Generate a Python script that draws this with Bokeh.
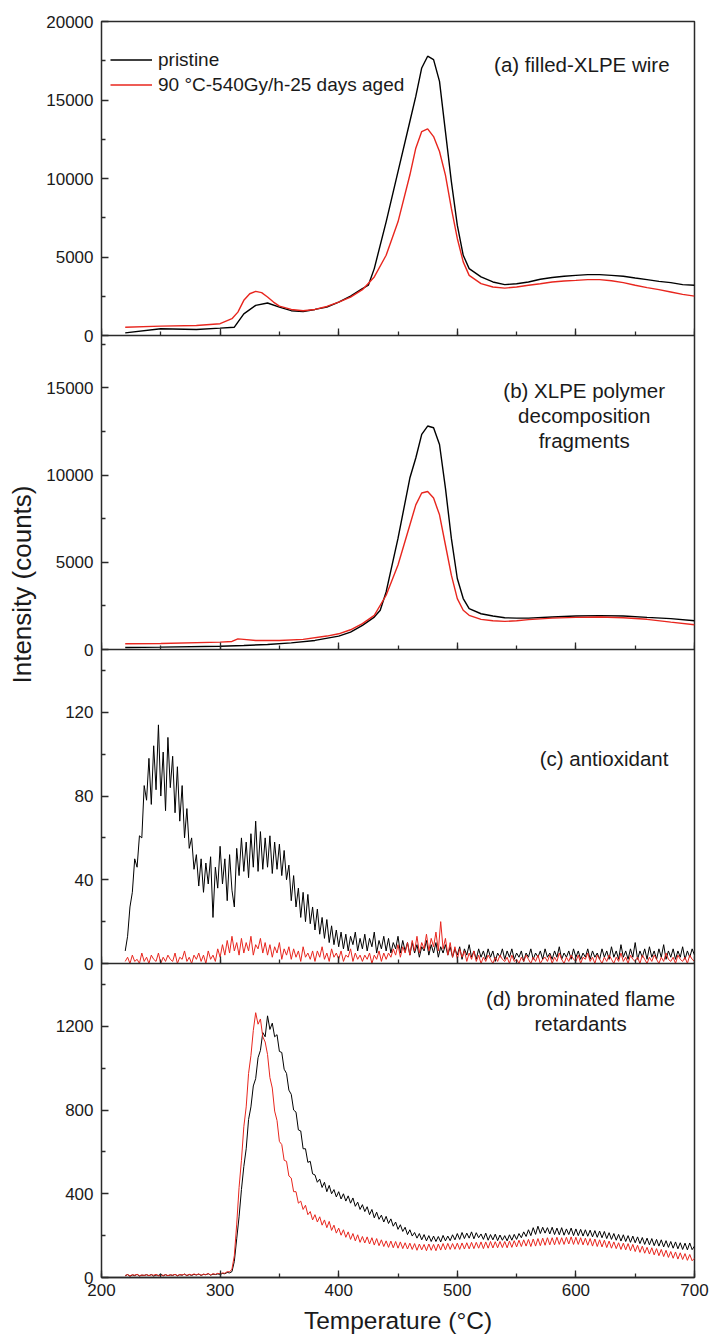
import math
from bokeh.plotting import figure
from bokeh.models import (Range1d, LinearAxis, SingleIntervalTicker, FixedTicker, Label,
                          Legend, LegendItem, Title)
from bokeh.embed import file_html
from bokeh.resources import INLINE

# ---------------- data ----------------
# (a) filled-XLPE wire
T_a_pristine = [220, 250, 280, 300, 312, 320, 330, 340, 350, 360, 370, 380, 390, 400, 410,
                420, 425, 430, 440, 450, 460, 465, 470, 475, 480, 485, 490, 495, 500, 505,
                510, 520, 530, 540, 550, 560, 570, 580, 590, 600, 610, 620, 630, 640, 650,
                660, 670, 680, 690, 700]
a_pristine = [170, 430, 380, 470, 530, 1380, 1920, 2070, 1810, 1580, 1530, 1660, 1810, 2130, 2510,
              2980, 3200, 4260, 7240, 10440, 13630, 15230, 17040, 17790, 17570, 16190, 12990, 9800, 7030, 5110,
              4260, 3730, 3410, 3240, 3300, 3410, 3580, 3690, 3770, 3830, 3880, 3880, 3830, 3770, 3660,
              3560, 3450, 3370, 3240, 3200]
T_a_aged = [220, 250, 280, 300, 310, 315, 320, 325, 330, 335, 340, 345, 350, 360, 370,
            380, 390, 400, 410, 420, 430, 440, 450, 460, 465, 470, 475, 480, 485, 490,
            495, 500, 505, 510, 520, 530, 540, 550, 560, 570, 580, 590, 600, 610, 620,
            630, 640, 650, 660, 670, 680, 690, 700]
a_aged = [530, 600, 640, 750, 1070, 1490, 2240, 2660, 2810, 2730, 2450, 2130, 1870, 1660, 1580,
          1660, 1850, 2130, 2450, 2920, 3730, 5110, 7240, 10220, 11930, 12990, 13160, 12670, 11720, 10220,
          8090, 6180, 4690, 3830, 3300, 3090, 3020, 3090, 3200, 3300, 3410, 3470, 3510, 3560, 3560,
          3490, 3370, 3200, 3050, 2920, 2770, 2620, 2510]

# (b) XLPE polymer decomposition fragments
T_b_pristine = [220, 250, 300, 320, 340, 360, 380, 400, 410, 420, 430, 435, 440, 450, 460,
                465, 470, 475, 480, 485, 490, 495, 500, 505, 510, 520, 530, 540, 550, 560,
                580, 600, 620, 640, 660, 680, 700]
b_pristine = [115, 135, 190, 230, 290, 380, 520, 770, 1000, 1380, 1860, 2250, 3300, 6370, 9830,
              10980, 12330, 12810, 12710, 11750, 9250, 6370, 4070, 2920, 2340, 2050, 1920, 1820, 1800, 1800,
              1860, 1920, 1940, 1920, 1840, 1770, 1650]
T_b_aged = [220, 250, 300, 310, 315, 320, 330, 350, 370, 390, 400, 410, 420, 430, 440,
            450, 460, 465, 470, 475, 480, 485, 490, 495, 500, 505, 510, 520, 530, 540,
            550, 560, 580, 600, 620, 640, 660, 680, 700]
b_aged = [330, 345, 420, 460, 610, 580, 520, 520, 580, 770, 900, 1130, 1480, 1960, 3110,
          4840, 7140, 8290, 8970, 9060, 8680, 7720, 5990, 4260, 2920, 2250, 1960, 1730, 1650, 1610,
          1650, 1710, 1800, 1840, 1860, 1820, 1730, 1570, 1420]

# (c) and (d): noisy traces sampled every 2 degC from 220 to 700
T_noisy = list(range(220, 701, 2))
c_pristine = [
    6, 13, 27, 34, 50, 46, 61, 60, 85, 78,
    98, 76, 104, 83, 114, 80, 101, 73, 108, 84,
    99, 72, 94, 68, 85, 60, 74, 55, 60, 45,
    52, 37, 50, 34, 48, 38, 51, 22, 46, 36,
    56, 38, 50, 30, 52, 35, 27, 55, 42, 60,
    44, 58, 41, 62, 46, 68, 44, 63, 45, 60,
    46, 61, 43, 58, 45, 57, 42, 54, 40, 47,
    30, 42, 27, 36, 22, 34, 20, 33, 19, 27,
    16, 26, 14, 22, 12, 21, 10, 18, 9, 16,
    8, 15, 7, 14, 6, 13, 9, 15, 6, 12,
    7, 14, 6, 12, 8, 15, 5, 11, 7, 13,
    6, 12, 5, 10, 7, 13, 5, 11, 6, 10,
    4, 10, 5, 9, 3, 8, 6, 11, 4, 9,
    5, 10, 3, 8, 5, 9, 4, 8, 3, 7,
    4, 8, 2, 7, 4, 9, 3, 6, 2, 7,
    3, 6, 2, 7, 3, 6, 1, 5, 3, 7,
    2, 6, 3, 7, 2, 5, 3, 6, 1, 5,
    3, 7, 2, 5, 3, 6, 2, 7, 3, 5,
    2, 6, 3, 8, 2, 5, 3, 6, 2, 7,
    3, 6, 2, 5, 3, 7, 2, 6, 3, 5,
    2, 7, 3, 6, 2, 8, 3, 6, 2, 9,
    3, 6, 2, 7, 3, 10, 2, 6, 3, 7,
    2, 8, 3, 6, 2, 7, 3, 9, 2, 6,
    3, 7, 2, 6, 3, 8, 2, 6, 3, 7,
    4]
c_aged = [
    1, 3, 0, 4, 1, 2, 0, 5, 1, 3,
    0, 4, 2, 1, 5, 0, 3, 1, 4, 2,
    1, 5, 0, 3, 2, 6, 1, 3, 0, 4,
    2, 5, 1, 4, 0, 6, 2, 4, 1, 7,
    3, 9, 4, 11, 5, 13, 6, 10, 4, 12,
    5, 10, 6, 13, 4, 9, 7, 12, 5, 10,
    4, 9, 3, 8, 5, 10, 2, 7, 4, 8,
    2, 7, 3, 6, 1, 8, 3, 5, 2, 6,
    1, 6, 3, 8, 2, 5, 1, 7, 3, 5,
    2, 6, 1, 4, 3, 7, 1, 5, 2, 4,
    1, 4, 2, 5, 0, 4, 2, 6, 1, 5,
    2, 5, 3, 7, 4, 9, 3, 8, 5, 10,
    4, 11, 6, 13, 5, 10, 7, 14, 6, 12,
    8, 15, 6, 20, 7, 12, 4, 10, 3, 8,
    2, 7, 3, 6, 1, 5, 2, 6, 1, 4,
    0, 3, 1, 4, 2, 0, 3, 1, 4, 2,
    1, 3, 0, 4, 1, 2, 0, 3, 1, 4,
    2, 0, 3, 1, 4, 0, 2, 3, 1, 4,
    0, 3, 1, 5, 2, 0, 3, 1, 4, 2,
    1, 4, 0, 3, 2, 5, 1, 3, 0, 4,
    2, 0, 3, 1, 4, 2, 0, 3, 1, 5,
    1, 3, 0, 4, 2, 1, 3, 0, 4, 2,
    0, 3, 1, 4, 2, 0, 3, 1, 5, 2,
    1, 3, 0, 4, 2, 1, 3, 0, 4, 2,
    1]
d_pristine = [
    8, 14, 6, 12, 9, 15, 7, 11, 10, 13,
    9, 14, 7, 12, 10, 16, 8, 13, 9, 12,
    10, 15, 8, 13, 11, 16, 9, 14, 10, 15,
    12, 16, 10, 15, 13, 18, 11, 16, 14, 17,
    15, 19, 18, 24, 22, 28, 77, 185, 290, 420,
    530, 615, 755, 815, 915, 950, 1050, 1085, 1170, 1150,
    1250, 1185, 1215, 1150, 1160, 1080, 1075, 995, 975, 895,
    875, 800, 790, 705, 700, 615, 615, 550, 555, 495,
    490, 455, 470, 430, 455, 410, 440, 400, 420, 385,
    410, 375, 400, 365, 390, 355, 380, 340, 360, 325,
    348, 315, 338, 300, 325, 285, 312, 278, 298, 265,
    292, 258, 280, 245, 265, 230, 252, 220, 240, 205,
    228, 198, 215, 188, 210, 180, 205, 175, 200, 172,
    198, 172, 196, 170, 201, 175, 198, 176, 204, 180,
    210, 182, 215, 186, 212, 188, 218, 185, 214, 190,
    208, 182, 212, 178, 205, 180, 207, 176, 203, 178,
    200, 175, 204, 178, 206, 182, 210, 190, 218, 196,
    228, 200, 238, 206, 245, 210, 240, 212, 238, 208,
    240, 205, 236, 204, 238, 202, 232, 205, 236, 200,
    232, 200, 230, 198, 228, 197, 226, 194, 224, 192,
    222, 190, 220, 186, 214, 182, 210, 178, 206, 174,
    204, 172, 200, 168, 198, 166, 194, 162, 191, 158,
    188, 156, 186, 152, 182, 150, 180, 146, 176, 144,
    172, 140, 170, 137, 166, 134, 164, 132, 165, 133,
    150]
d_aged = [
    10, 14, 8, 13, 11, 15, 9, 12, 10, 14,
    9, 13, 11, 15, 8, 12, 10, 14, 9, 13,
    11, 15, 9, 14, 12, 16, 10, 15, 12, 17,
    13, 17, 11, 16, 14, 19, 12, 18, 15, 20,
    17, 22, 20, 28, 27, 40, 105, 255, 430, 560,
    720, 815, 975, 1060, 1180, 1265, 1210, 1235, 1150, 1125,
    1065, 955, 905, 795, 750, 650, 635, 560, 555, 485,
    475, 410, 410, 355, 365, 325, 345, 300, 315, 275,
    300, 265, 290, 250, 275, 238, 268, 225, 250, 212,
    236, 202, 228, 192, 218, 182, 210, 175, 204, 168,
    196, 165, 194, 160, 190, 155, 186, 152, 180, 148,
    175, 144, 174, 142, 172, 140, 170, 138, 166, 136,
    164, 134, 162, 130, 160, 132, 158, 128, 160, 130,
    158, 128, 160, 131, 162, 132, 163, 134, 162, 135,
    164, 134, 165, 136, 166, 137, 168, 138, 168, 140,
    170, 138, 170, 140, 172, 141, 171, 142, 172, 143,
    172, 142, 174, 144, 176, 146, 178, 148, 180, 150,
    182, 148, 184, 150, 186, 152, 188, 154, 190, 156,
    190, 156, 192, 158, 190, 158, 192, 160, 194, 158,
    192, 158, 190, 156, 188, 154, 186, 150, 184, 148,
    180, 146, 178, 143, 174, 140, 170, 138, 166, 134,
    164, 132, 162, 128, 158, 124, 154, 120, 150, 116,
    144, 112, 142, 108, 138, 104, 134, 100, 130, 96,
    124, 92, 122, 88, 118, 86, 114, 82, 110, 80,
    92]

# panel definitions: name, y max, major tick step, slot (0 = bottom)
panel_names = ["a", "b", "c", "d"]
panel_ymax = [20000, 18000, 150, 1500]
panel_step = [5000, 5000, 40, 400]
panel_slot = [3, 2, 1, 0]
panel_titles = ["(a) filled-XLPE wire",
                "(b) XLPE polymer\ndecomposition\nfragments",
                "(c) antioxidant",
                "(d) brominated flame\nretardants"]
series_labels = ["pristine", "90 \u00b0C-540Gy/h-25 days aged"]

# ---------------- styling ----------------
FONT = "Liberation Sans"
INK = "#1a1a1a"
BLACK = "#000000"
RED = "#e8261e"
FRAME = "#2a2a2a"

p = figure(width=709, height=1337, x_range=Range1d(200, 700), y_range=Range1d(0, 4),
           output_backend="svg", toolbar_location=None,
           x_axis_location=None, y_axis_location=None,
           min_border_left=101, min_border_right=15, min_border_top=21, min_border_bottom=60)
p.grid.visible = False
p.outline_line_color = FRAME
p.outline_line_width = 1.5
p.background_fill_color = "white"
p.border_fill_color = "white"

# each panel gets its own value range, stacked in the shared frame
for name, ymax, slot in zip(panel_names, panel_ymax, panel_slot):
    p.extra_y_ranges[name] = Range1d(-slot * ymax, (4 - slot) * ymax)


def style_axis(ax):
    ax.axis_line_color = FRAME
    ax.axis_line_width = 1.5
    ax.major_tick_line_color = FRAME
    ax.minor_tick_line_color = FRAME
    ax.major_tick_line_width = 1.3
    ax.minor_tick_line_width = 1.3
    ax.major_tick_in = 7
    ax.major_tick_out = 0
    ax.minor_tick_in = 4
    ax.minor_tick_out = 0
    ax.major_label_text_font = FONT
    ax.major_label_text_font_size = "17px"
    ax.major_label_text_color = INK


# one left axis carrying the tick values of all four panels
major_pos, minor_pos, overrides = [], [], {}
for name, ymax, step, slot in zip(panel_names, panel_ymax, panel_step, panel_slot):
    v = 0
    while v <= ymax:
        pos = slot + v / ymax
        major_pos.append(pos)
        overrides[pos] = str(v)
        v += step
    v = step / 2
    while v < ymax:
        minor_pos.append(slot + v / ymax)
        v += step

yax = LinearAxis(ticker=FixedTicker(ticks=major_pos, minor_ticks=minor_pos),
                 major_label_overrides=overrides)
style_axis(yax)
yax.axis_line_color = None
yax.major_label_standoff = 8
p.add_layout(yax, "left")

# shared y axis title on the left side
p.add_layout(Title(text="Intensity (counts)", align="left", offset=594,
                   vertical_align="middle", text_font=FONT, text_font_size="26px",
                   text_font_style="normal", text_color=INK, standoff=11), "left")

# inner x axes at panel boundaries (ticks only)
for slot in [1, 2, 3]:
    ax = LinearAxis(fixed_location=slot, ticker=SingleIntervalTicker(interval=100, num_minor_ticks=2))
    style_axis(ax)
    ax.major_label_text_color = None
    p.add_layout(ax, "below")

# bottom x axis
xax = LinearAxis(ticker=SingleIntervalTicker(interval=100, num_minor_ticks=2))
style_axis(xax)
xax.major_label_standoff = 6
xax.axis_label = "Temperature (\u00b0C)"
xax.axis_label_text_font = FONT
xax.axis_label_text_font_size = "24.5px"
xax.axis_label_text_font_style = "normal"
xax.axis_label_text_color = INK
xax.axis_label_standoff = 8
p.add_layout(xax, "below")

# curves
series = {
    "a": [(T_a_pristine, a_pristine), (T_a_aged, a_aged)],
    "b": [(T_b_pristine, b_pristine), (T_b_aged, b_aged)],
    "c": [(T_noisy, c_pristine), (T_noisy, c_aged)],
    "d": [(T_noisy, d_pristine), (T_noisy, d_aged)],
}
legend_renderers = []
for name in panel_names:
    lw = 1.4 if name in ("a", "b") else 1.0
    for (xs, ys), col in zip(series[name], [BLACK, RED]):
        r = p.line(xs, ys, y_range_name=name, line_color=col, line_width=lw)
        if name == "a":
            legend_renderers.append(r)

legend = Legend(items=[LegendItem(label=lab, renderers=[r])
                       for lab, r in zip(series_labels, legend_renderers)],
                location=(9, 1180), padding=0, margin=0, spacing=0,
                glyph_width=42, glyph_height=25, label_height=25, label_standoff=6,
                label_text_font=FONT, label_text_font_size="19px", label_text_color=INK,
                border_line_color=None, background_fill_alpha=0)
p.add_layout(legend, "center")

# panel titles
title_x = [605, 607, 678, 604]
title_y = [17250, 13414, 98, 1273]
title_align = ["center", "center", "right", "center"]
for name, txt, tx, ty, al in zip(panel_names, panel_titles, title_x, title_y, title_align):
    p.add_layout(Label(x=tx, y=ty, y_range_name=name, text=txt, text_align=al,
                       text_baseline="middle", text_font=FONT, text_font_size="20.5px",
                       text_color=INK, text_line_height=1.1))

open("out.html", "w").write(file_html(p, INLINE))
